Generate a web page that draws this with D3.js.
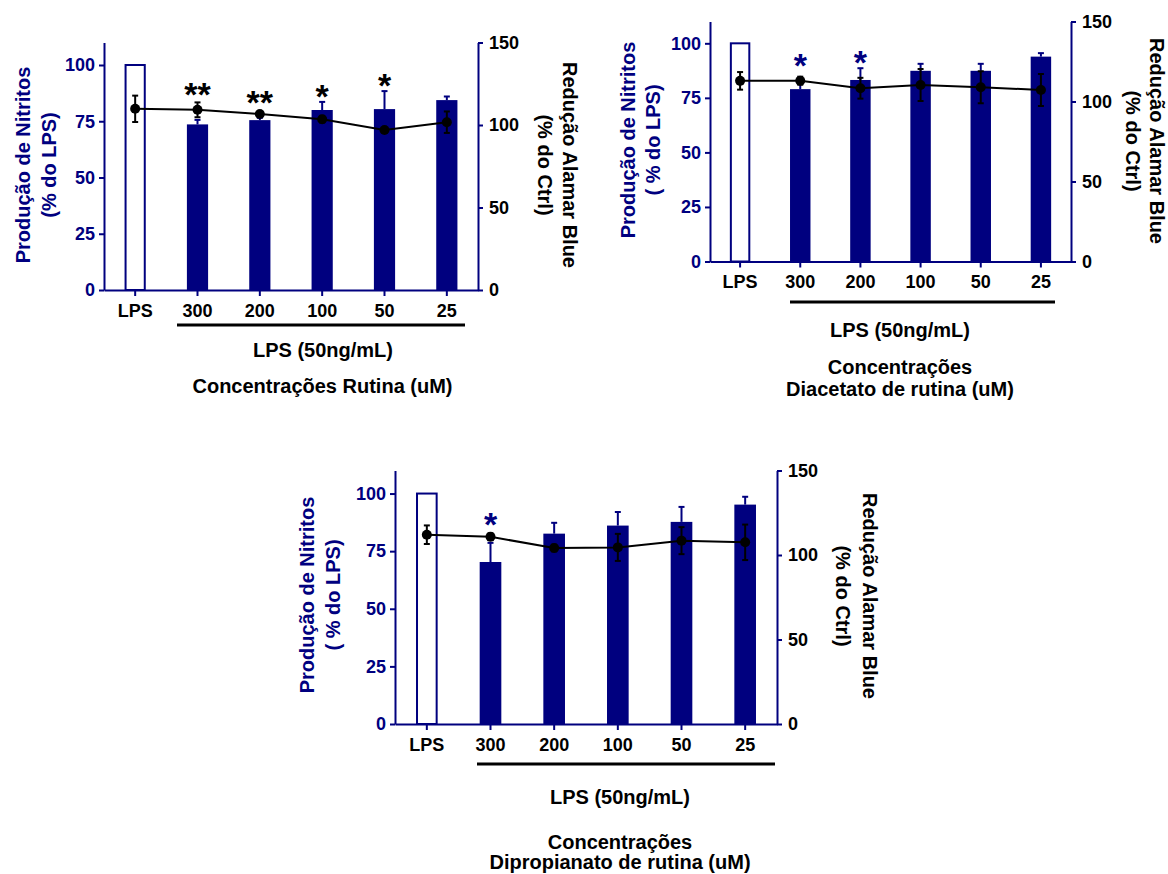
<!DOCTYPE html>
<html><head><meta charset="utf-8">
<script src="https://cdn.jsdelivr.net/npm/d3@7"></script>
<style>body{margin:0;background:#fff}svg{display:block}</style>
</head><body>
<svg id="chart" width="1168" height="874"></svg>
<script>
// ---------- DATA ----------
const categories = ["LPS", "300", "200", "100", "50", "25"];
const leftTicks = [0, 25, 50, 75, 100];
const rightTicks = [0, 50, 100, 150];

// Panel 1: Rutina
const rutinaNitrito    = [100, 73.6, 75.5, 80.0, 80.4, 84.4];
const rutinaNitritoErr = [0, 2.0, 1.0, 3.6, 8.0, 1.6];
const rutinaAlamar     = [109.8, 109.2, 106.7, 103.5, 97.0, 101.7];
const rutinaAlamarErr  = [8.0, 4.5, 1.0, 2.0, 1.0, 6.5];
const rutinaStars      = ["", "**", "**", "*", "*", ""];
const rutinaStarLevel  = [0, 90.5, 86.7, 89.6, 94.2, 0];

// Panel 2: Diacetato de rutina
const diacetatoNitrito    = [100, 79.0, 83.2, 87.4, 87.4, 93.9];
const diacetatoNitritoErr = [0, 3.0, 5.4, 3.2, 3.2, 1.6];
const diacetatoAlamar     = [112.9, 113.0, 108.3, 110.3, 108.9, 107.2];
const diacetatoAlamarErr  = [5.5, 2.5, 6.5, 10.0, 10.0, 10.0];
const diacetatoStars      = ["", "*", "*", "", "", ""];
const diacetatoStarLevel  = [0, 93.3, 94.7, 0, 0, 0];

// Panel 3: Dipropianato de rutina
const dipropNitrito    = [100, 70.3, 82.6, 86.1, 87.7, 95.2];
const dipropNitritoErr = [0, 8.3, 4.7, 5.9, 6.5, 3.4];
const dipropAlamar     = [112.0, 110.8, 104.1, 104.5, 108.5, 107.5];
const dipropAlamarErr  = [5.5, 2.0, 2.0, 8.0, 8.0, 10.5];
const dipropStars      = ["", "*", "", "", "", ""];
const dipropStarLevel  = [0, 90.0, 0, 0, 0, 0];

const leftTitle  = ["Produção de Nitritos", "(% do LPS)"];
const leftTitle2 = ["Produção de Nitritos", "( % do LPS)"];
const rightTitle = ["Redução Alamar Blue", "(% do Ctrl)"];
const groupLabel = "LPS (50ng/mL)";

// ---------- STYLE / LAYOUT ----------
const NAVY = "#00007f";
const FONT = "'Liberation Sans', Arial, Helvetica, sans-serif";
const svg = d3.select("#chart");

const panels = [
  { nit: rutinaNitrito, nitErr: rutinaNitritoErr, ala: rutinaAlamar, alaErr: rutinaAlamarErr,
    stars: rutinaStars, starLevel: rutinaStarLevel, starColor: "#000",
    left: 104, right: 478, top: 42.5, bottom: 290, xPad: 8,
    lt: leftTitle, ltX: [23, 49], ltY: 165, rtX: [570, 545], rtY: 165,
    ul: [177, 465, 325], bottomText: [[groupLabel, 323, 350], ["Concentrações Rutina (uM)", 322.5, 386]] },
  { nit: diacetatoNitrito, nitErr: diacetatoNitritoErr, ala: diacetatoAlamar, alaErr: diacetatoAlamarErr,
    stars: diacetatoStars, starLevel: diacetatoStarLevel, starColor: NAVY,
    left: 710, right: 1071, top: 21.5, bottom: 261.5, xPad: 8,
    lt: leftTitle2, ltX: [628, 653], ltY: 140, rtX: [1157, 1133], rtY: 141,
    ul: [790, 1055, 302], bottomText: [[groupLabel, 900, 330], ["Concentrações", 900, 367], ["Diacetato de rutina (uM)", 900, 389]] },
  { nit: dipropNitrito, nitErr: dipropNitritoErr, ala: dipropAlamar, alaErr: dipropAlamarErr,
    stars: dipropStars, starLevel: dipropStarLevel, starColor: NAVY,
    left: 395, right: 777, top: 470.5, bottom: 724, xPad: 8,
    lt: leftTitle2, ltX: [307, 333], ltY: 595, rtX: [870, 843], rtY: 596,
    ul: [477, 775, 764], bottomText: [[groupLabel, 620, 797], ["Concentrações", 620, 842], ["Dipropianato de rutina (uM)", 620, 862]] }
];

function drawPanel(p) {
  const g = svg.append("g");
  const x = d3.scaleBand().domain(categories).range([p.left, p.right]).paddingInner(0.66).paddingOuter(0.33);
  const yL = d3.scaleLinear().domain([0, 110]).range([p.bottom, p.top]);
  const yR = d3.scaleLinear().domain([0, 150]).range([p.bottom, p.top]);
  const bw = x.bandwidth();
  const cx = d => x(d) + bw / 2;
  const rows = categories.map((c, i) => ({ c, i, nit: p.nit[i], nitErr: p.nitErr[i], ala: p.ala[i], alaErr: p.alaErr[i],
    star: p.stars[i], starLevel: p.starLevel[i] }));

  // bars
  g.selectAll("rect.bar").data(rows).join("rect")
    .attr("x", d => x(d.c) + (d.i === 0 ? 1 : 0))
    .attr("width", d => bw - (d.i === 0 ? 2 : 0))
    .attr("y", d => yL(d.nit))
    .attr("height", d => yL(0) - yL(d.nit))
    .attr("fill", d => d.i === 0 ? "#fff" : NAVY)
    .attr("stroke", NAVY).attr("stroke-width", d => d.i === 0 ? 2 : 0);

  // bar error bars (upper)
  const be = rows.filter(d => d.nitErr > 0);
  g.selectAll("line.be").data(be).join("line")
    .attr("x1", d => cx(d.c)).attr("x2", d => cx(d.c))
    .attr("y1", d => yL(d.nit)).attr("y2", d => yL(d.nit + d.nitErr))
    .attr("stroke", NAVY).attr("stroke-width", 2);
  g.selectAll("line.bc").data(be).join("line")
    .attr("x1", d => cx(d.c) - 3).attr("x2", d => cx(d.c) + 3)
    .attr("y1", d => yL(d.nit + d.nitErr)).attr("y2", d => yL(d.nit + d.nitErr))
    .attr("stroke", NAVY).attr("stroke-width", 2);

  // axes
  const axL = g.append("g").attr("transform", `translate(${p.left},0)`)
    .call(d3.axisLeft(yL).tickValues(leftTicks).tickSize(5).tickSizeOuter(0).tickPadding(4));
  const axR = g.append("g").attr("transform", `translate(${p.right},0)`)
    .call(d3.axisRight(yR).tickValues(rightTicks).tickSize(5).tickSizeOuter(0).tickPadding(6));
  const axB = g.append("g").attr("transform", `translate(0,${p.bottom})`)
    .call(d3.axisBottom(x).tickSize(6).tickSizeOuter(0).tickPadding(p.xPad));
  [axL, axR, axB].forEach(a => {
    a.select(".domain").attr("stroke", NAVY).attr("stroke-width", 2);
    a.selectAll(".tick line").attr("stroke", NAVY).attr("stroke-width", 2);
    a.selectAll(".tick text").attr("font-family", FONT).attr("font-weight", "bold").attr("font-size", 18);
  });
  axL.selectAll(".tick text").attr("fill", NAVY);
  axR.selectAll(".tick text").attr("fill", "#000");
  axB.selectAll(".tick text").attr("fill", "#000");

  // alamar blue line
  const line = d3.line().x(d => cx(d.c)).y(d => yR(d.ala));
  g.append("path").datum(rows).attr("d", line).attr("fill", "none").attr("stroke", "#000").attr("stroke-width", 2);
  g.selectAll("line.le").data(rows).join("line")
    .attr("x1", d => cx(d.c)).attr("x2", d => cx(d.c))
    .attr("y1", d => yR(d.ala - d.alaErr)).attr("y2", d => yR(d.ala + d.alaErr))
    .attr("stroke", "#000").attr("stroke-width", 2);
  ["-", "+"].forEach(s => {
    g.selectAll("line.lc" + (s === "+" ? "p" : "m")).data(rows).join("line")
      .attr("x1", d => cx(d.c) - 3).attr("x2", d => cx(d.c) + 3)
      .attr("y1", d => yR(s === "+" ? d.ala + d.alaErr : d.ala - d.alaErr))
      .attr("y2", d => yR(s === "+" ? d.ala + d.alaErr : d.ala - d.alaErr))
      .attr("stroke", "#000").attr("stroke-width", 2);
  });
  g.selectAll("circle.pt").data(rows).join("circle")
    .attr("cx", d => cx(d.c)).attr("cy", d => yR(d.ala)).attr("r", 5).attr("fill", "#000");

  // significance stars
  const fs = 34;
  g.selectAll("text.star").data(rows.filter(d => d.star)).join("text")
    .attr("x", d => cx(d.c)).attr("y", d => yL(d.starLevel) + 0.57 * fs)
    .attr("text-anchor", "middle").attr("font-family", FONT).attr("font-weight", "bold").attr("font-size", fs)
    .attr("fill", p.starColor).text(d => d.star);

  // titles
  p.lt.forEach((t, k) => {
    g.append("text").attr("transform", `translate(${p.ltX[k]},${p.ltY}) rotate(-90)`)
      .attr("text-anchor", "middle").attr("dominant-baseline", "central")
      .attr("font-family", FONT).attr("font-weight", "bold").attr("font-size", 20)
      .attr("fill", NAVY).text(t);
  });
  rightTitle.forEach((t, k) => {
    g.append("text").attr("transform", `translate(${p.rtX[k]},${p.rtY}) rotate(90)`)
      .attr("text-anchor", "middle").attr("dominant-baseline", "central")
      .attr("font-family", FONT).attr("font-weight", "bold").attr("font-size", 20)
      .attr("fill", "#000").text(t);
  });

  // group underline & bottom labels
  g.append("line").attr("x1", p.ul[0]).attr("x2", p.ul[1]).attr("y1", p.ul[2]).attr("y2", p.ul[2])
    .attr("stroke", "#000").attr("stroke-width", 3);
  p.bottomText.forEach(([t, tx, ty]) => {
    g.append("text").attr("x", tx).attr("y", ty).attr("text-anchor", "middle").attr("dominant-baseline", "central")
      .attr("font-family", FONT).attr("font-weight", "bold").attr("font-size", 20).attr("fill", "#000").text(t);
  });
}
panels.forEach(drawPanel);
</script>
</body></html>
